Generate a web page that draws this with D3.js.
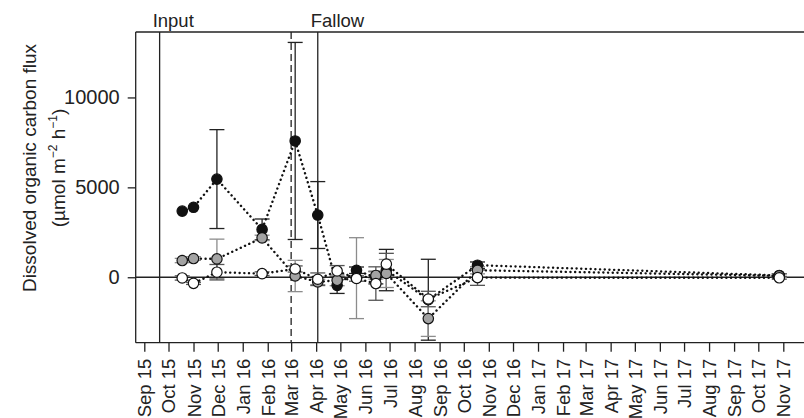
<!DOCTYPE html>
<html>
<head>
<meta charset="utf-8">
<script src="https://cdn.jsdelivr.net/npm/d3@7"></script>
<style>
body { margin: 0; background: #fff; }
svg text { font-family: "Liberation Sans", Arial, Helvetica, sans-serif; fill: #222; }
</style>
</head>
<body>
<svg id="chart" width="804" height="418"></svg>
<script>
// sampling dates shared by the three treatments
var sampleDates = ["2015-10-18", "2015-11-01", "2015-11-30", "2016-01-25", "2016-03-06", "2016-04-03",
    "2016-04-27", "2016-05-21", "2016-06-14", "2016-06-27", "2016-08-18", "2016-10-18", "2017-10-27"];

// DOC flux (µmol m-2 h-1) and +/- error
var blackFlux = [3680, 3890, 5460, 2660, 7580, 3460, -450, 390, -20, 400, -1250, 670, 100];
var blackErr  = [0, 0, 2750, 580, 5480, 1860, 450, 180, 350, 1150, 2250, 180, 100];
var greyFlux  = [930, 1040, 1020, 2190, 70, -260, -170, -50, 100, 210, -2300, 390, 80];
var greyErr   = [120, 100, 1100, 150, 870, 150, 300, 2250, 200, 780, 990, 200, 100];
var whiteFlux = [-40, -340, 280, 200, 460, -110, 350, -70, -350, 730, -1210, -20, -30];
var whiteErr  = [120, 60, 430, 100, 170, 350, 300, 150, 930, 600, 430, 430, 80];

var yTicks = [0, 5000, 10000];
var phaseDates = ["2015-09-20", "2016-03-01", "2016-04-03"];
var phaseLabels = ["Input", "", "Fallow"];

var parse = d3.timeParse("%Y-%m-%d");

var svg = d3.select('#chart'),
    width = 804, height = 418,
    plotLeft = 135.7, plotTop = 32, plotBottom = 342.7;

var x = d3.scaleTime()
    .domain([parse("2015-09-01"), parse("2017-11-01")])
    .range([144.3, 783.3]);

var y = d3.scaleLinear()
    .domain([-3640, 13640])
    .range([plotBottom, plotTop]);

function makeSeries(vals, errs) {
    return sampleDates.map(function(d, i) {
        return {date: parse(d), v: vals[i], e: errs[i]};
    });
}

var series = [
    {data: makeSeries(blackFlux, blackErr), fill: '#111', bar: '#222'},
    {data: makeSeries(greyFlux, greyErr), fill: '#a3a3a3', bar: '#8c8c8c'},
    {data: makeSeries(whiteFlux, whiteErr), fill: '#fff', bar: '#555'}
];

// frame: top line, zero line
svg.append('line').attr('x1', plotLeft).attr('x2', width).attr('y1', plotTop).attr('y2', plotTop)
    .attr('stroke', '#222').attr('stroke-width', 1.3);
svg.append('line').attr('x1', plotLeft).attr('x2', width).attr('y1', y(0)).attr('y2', y(0))
    .attr('stroke', '#222').attr('stroke-width', 1.3);

// phase lines
phaseDates.forEach(function(d, i) {
    var px = x(parse(d));
    svg.append('line')
        .attr('x1', px).attr('x2', px).attr('y1', plotTop).attr('y2', plotBottom)
        .attr('stroke', '#222').attr('stroke-width', 1.3)
        .attr('stroke-dasharray', phaseLabels[i] == '' ? '7,4' : null);
    if (phaseLabels[i] != '')
        svg.append('text').attr('x', px - 7).attr('y', 27)
            .attr('font-size', '18.5px').text(phaseLabels[i]);
});

// error bars
series.forEach(function(s) {
    var g = svg.append('g');
    s.data.filter(function(d) { return d.e > 0; }).forEach(function(d) {
        var px = x(d.date), y1 = y(d.v + d.e), y2 = y(d.v - d.e);
        g.append('line').attr('x1', px).attr('x2', px).attr('y1', y1).attr('y2', y2)
            .attr('stroke', s.bar).attr('stroke-width', 1.3);
        [y1, y2].forEach(function(yy) {
            g.append('line').attr('x1', px - 7.5).attr('x2', px + 7.5).attr('y1', yy).attr('y2', yy)
                .attr('stroke', s.bar).attr('stroke-width', 1.3);
        });
    });
});

// dotted lines
var line = d3.line()
    .x(function(d) { return x(d.date); })
    .y(function(d) { return y(d.v); });

series.forEach(function(s) {
    svg.append('path').datum(s.data)
        .attr('d', line)
        .attr('fill', 'none')
        .attr('stroke', '#111')
        .attr('stroke-width', 2.4)
        .attr('stroke-linecap', 'round')
        .attr('stroke-dasharray', '0.1,4.6');
});

// points
series.forEach(function(s) {
    svg.append('g').selectAll('circle')
        .data(s.data)
        .enter()
        .append('circle')
        .attr('cx', function(d) { return x(d.date); })
        .attr('cy', function(d) { return y(d.v); })
        .attr('r', 5.2)
        .attr('fill', s.fill)
        .attr('stroke', '#111')
        .attr('stroke-width', 1.2);
});

// axes
var xAxis = svg.append('g')
    .attr('transform', 'translate(0,' + plotBottom + ')')
    .call(d3.axisBottom(x)
        .ticks(d3.timeMonth.every(1))
        .tickFormat(d3.timeFormat('%b %y'))
        .tickSize(9)
        .tickSizeOuter(0));
xAxis.select('.domain').remove();
xAxis.selectAll('line').attr('stroke', '#222').attr('stroke-width', 1.3);
xAxis.selectAll('text')
    .attr('font-size', '18.5px')
    .attr('transform', 'rotate(-90)')
    .attr('text-anchor', 'end')
    .attr('x', -16)
    .attr('y', 0)
    .attr('dy', '0.35em');

svg.append('line').attr('x1', plotLeft).attr('x2', width).attr('y1', plotBottom).attr('y2', plotBottom)
    .attr('stroke', '#222').attr('stroke-width', 1.3);

var yAxis = svg.append('g')
    .attr('transform', 'translate(' + plotLeft + ',0)')
    .call(d3.axisLeft(y).tickValues(yTicks).tickFormat(d3.format('d')).tickSize(8).tickPadding(8).tickSizeOuter(0));
yAxis.select('.domain').remove();
yAxis.selectAll('line').attr('stroke', '#222').attr('stroke-width', 1.3);
yAxis.selectAll('text').attr('font-size', '20px');

svg.append('line').attr('x1', plotLeft).attr('x2', plotLeft).attr('y1', plotTop).attr('y2', plotBottom)
    .attr('stroke', '#222').attr('stroke-width', 1.3);

// y title
var title = svg.append('g').attr('transform', 'translate(36,168) rotate(-90)');
title.append('text').attr('text-anchor', 'middle').attr('font-size', '19px')
    .text('Dissolved organic carbon flux');
var unit = title.append('text').attr('text-anchor', 'middle').attr('y', 29).attr('font-size', '19px');
unit.append('tspan').text('(µmol m');
unit.append('tspan').attr('dy', -8).attr('font-size', '12px').text('−2');
unit.append('tspan').attr('dy', 8).text(' h');
unit.append('tspan').attr('dy', -8).attr('font-size', '12px').text('−1');
unit.append('tspan').attr('dy', 8).text(')');
</script>
</body>
</html>
